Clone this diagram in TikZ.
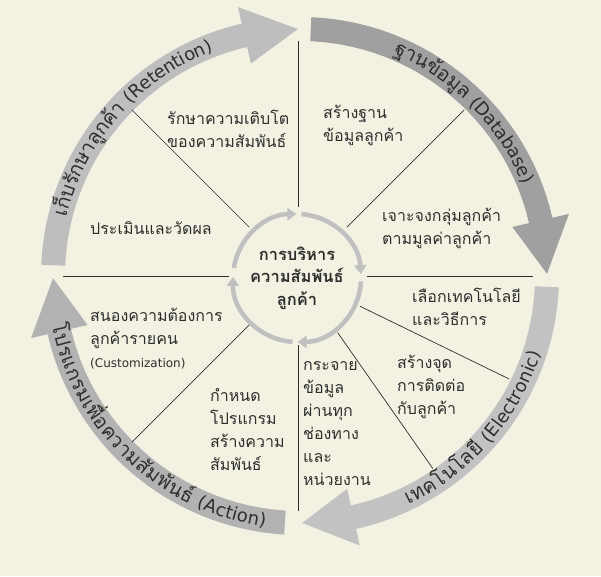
\documentclass[tikz,border=0pt]{standalone}
\usepackage{fontspec}
\setmainfont[Script=Thai]{Loma}
\newfontfamily\latfont{DejaVu Sans}
\usetikzlibrary{arrows.meta,decorations.text}

\definecolor{paper}{HTML}{F3F2E2}
\definecolor{ink}{HTML}{2E2E2E}
\definecolor{ringgray}{HTML}{C0C0C0}
\definecolor{bandA}{HTML}{BEBEBE}
\definecolor{bandB}{HTML}{A0A0A0}
\definecolor{bandC}{HTML}{C2C2C2}
\definecolor{bandD}{HTML}{B2B2B2}

% start angle, base of head, tip, colour
\newcommand{\bandarrow}[4]{%
  \fill[#4] (#1:259) arc[start angle=#1, end angle=#2, radius=259]
    -- (#2:276) -- (#3:247) -- (#2:218) -- (#2:235)
    arc[start angle=#2, end angle=#1, radius=235] -- cycle;}
\newcommand{\bandth}{\fontsize{20}{20}\selectfont}
\newcommand{\bandlat}{\latfont\fontsize{18}{18}\selectfont}

\begin{document}
\begin{tikzpicture}[x=1pt,y=1pt,
    sector/.style={font=\fontsize{16}{23}\selectfont, text=ink, align=left, anchor=west, inner sep=0pt},
    hubtext/.style={font=\bfseries\fontsize{16.5}{22.5}\selectfont, text=ink, align=center, inner sep=0pt},
    sep/.style={draw=ink, line width=0.7pt},
    ring/.style={draw=ringgray, line width=4.5pt, -{Triangle[width=12pt,length=9pt]}},
    bandtext/.style={decorate, decoration={text along path, text align=center, raise=-6pt, text color=ink}}]
  \path[use as bounding box, fill=paper] (-300,-300) rectangle (301,276);

  % outer bands
  \bandarrow{177.5}{103}{90.5}{bandA}
  \bandarrow{87.5}{13}{0.5}{bandB}
  \bandarrow{-2.5}{-77.5}{-89.5}{bandC}
  \bandarrow{266.5}{193}{180.5}{bandD}

  \path[bandtext, decoration={text={|\bandth|เ{ก็}บ{รั}กษา{ลู}ก{ค้}า |\bandlat|(Retention)}}]
    (182.5:247) arc[start angle=182.5, end angle=94.5, radius=247];
  \path[bandtext, decoration={text={|\bandth|ฐาน{ข้}อ{มู}ล |\bandlat|(Database)}}]
    (88.8:247) arc[start angle=88.8, end angle=0.8, radius=247];
  \path[bandtext, decoration={text={|\bandth|เทคโนโล{ยี} |\bandlat|(Electronic)}}]
    (-85.2:247) arc[start angle=-85.2, end angle=2.8, radius=247];
  \path[bandtext, decoration={text={|\bandth|โปรแกรมเ{พื่}อความ{สั}ม{พั}น{ธ์} |\bandlat|(Action)}}]
    (182.6:247) arc[start angle=182.6, end angle=270.6, radius=247];

  % dividers
  \foreach \a in {90,45,0,-26,-55,-90,-135,180,135}
    \draw[sep] ([shift={(-2,0)}]\a:69) -- ([shift={(-2,0)}]\a:235);

  % hub
  \node[hubtext] (hub) at (-3,-2) {การบริหาร\\ความสัมพันธ์\\ลูกค้า};
  \draw[ring] (hub.center) ++(171:64) arc[start angle=171, end angle=90.5, radius=64];
  \draw[ring] (hub.center) ++(86:64) arc[start angle=86, end angle=3.5, radius=64];
  \draw[ring] (hub.center) ++(-3:64) arc[start angle=-3, end angle=-89.5, radius=64];
  \draw[ring] (hub.center) ++(-94:64) arc[start angle=-94, end angle=-181, radius=64];

  % sector labels
  \node[sector] (grow)    at (-133,147.5) {รักษาความเติบโต\\ของความสัมพันธ์};
  \node[sector] (build)   at (23,151)     {สร้างฐาน\\ข้อมูลลูกค้า};
  \node[sector] (segment) at (82,47.5)    {เจาะจงกลุ่มลูกค้า\\ตามมูลค่าลูกค้า};
  \node[sector] (assess)  at (-210,48)    {ประเมินและวัดผล};
  \node[sector] (choose)  at (112,-30.5)  {เลือกเทคโนโลยี\\และวิธีการ};
  \node[sector] (respond) at (-210,-62.5) {สนองความต้องการ\\ลูกค้ารายคน\\{\latfont\fontsize{12}{23}\selectfont(Customization)}};
  \node[sector] (contact) at (97,-110.5)  {สร้างจุด\\การติดต่อ\\กับลูกค้า};
  \node[sector] (spread)  at (3,-148)     {กระจาย\\ข้อมูล\\ผ่านทุก\\ช่องทาง\\และ\\หน่วยงาน};
  \node[sector] (plan)    at (-90,-154)   {กำหนด\\โปรแกรม\\สร้างความ\\สัมพันธ์};
\end{tikzpicture}
\end{document}
